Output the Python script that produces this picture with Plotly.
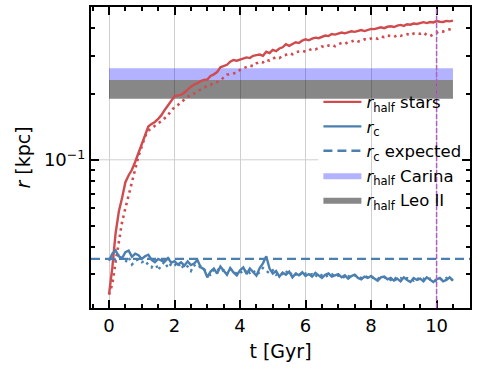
import plotly.graph_objects as go

# --- data ---
t_gyr = [
    0.0, 0.1, 0.2, 0.3, 0.4, 0.5, 0.6, 0.7, 0.8, 0.9,
    1.0, 1.1, 1.2, 1.3, 1.4, 1.5, 1.6, 1.7, 1.8, 1.9,
    2.0, 2.1, 2.2, 2.3, 2.4, 2.5, 2.6, 2.7, 2.8, 2.9,
    3.0, 3.1, 3.2, 3.3, 3.4, 3.5, 3.6, 3.7, 3.8, 3.9,
    4.0, 4.1, 4.2, 4.3, 4.4, 4.5, 4.6, 4.7, 4.8, 4.9,
    5.0, 5.1, 5.2, 5.3, 5.4, 5.5, 5.6, 5.7, 5.8, 5.9,
    6.0, 6.1, 6.2, 6.3, 6.4, 6.5, 6.6, 6.7, 6.8, 6.9,
    7.0, 7.1, 7.2, 7.3, 7.4, 7.5, 7.6, 7.7, 7.8, 7.9,
    8.0, 8.1, 8.2, 8.3, 8.4, 8.5, 8.6, 8.7, 8.8, 8.9,
    9.0, 9.1, 9.2, 9.3, 9.4, 9.5, 9.6, 9.7, 9.8, 9.9,
    10.0, 10.1, 10.2, 10.3, 10.4, 10.5,
]

rhalf_stars = [
    0.0242, 0.0320, 0.0460, 0.0580, 0.0670, 0.0790, 0.0850, 0.0900, 0.0980, 0.1080,
    0.1180, 0.1300, 0.1420, 0.1460, 0.1490, 0.1540, 0.1600, 0.1690, 0.1780, 0.1850,
    0.1950, 0.1970, 0.1980, 0.2030, 0.2100, 0.2160, 0.2210, 0.2240, 0.2290, 0.2320,
    0.2330, 0.2420, 0.2460, 0.2520, 0.2650, 0.2680, 0.2720, 0.2810, 0.2860, 0.2840,
    0.2870, 0.2900, 0.2940, 0.2920, 0.2990, 0.3010, 0.3030, 0.2990, 0.3120, 0.3080,
    0.3180, 0.3140, 0.3230, 0.3270, 0.3380, 0.3320, 0.3390, 0.3450, 0.3420, 0.3510,
    0.3560, 0.3520, 0.3580, 0.3620, 0.3600, 0.3660, 0.3700, 0.3680, 0.3760, 0.3740,
    0.3780, 0.3820, 0.3790, 0.3840, 0.3870, 0.3850, 0.3890, 0.3920, 0.3880, 0.3940,
    0.3970, 0.3960, 0.3990, 0.4040, 0.4000, 0.4060, 0.4080, 0.4050, 0.4110, 0.4140,
    0.4100, 0.4170, 0.4150, 0.4200, 0.4180, 0.4230, 0.4260, 0.4220, 0.4270, 0.4250,
    0.4310, 0.4280, 0.4270, 0.4320, 0.4300, 0.4330,
]

rhalf_stars_b = [
    0.0242, 0.0270, 0.0340, 0.0430, 0.0520, 0.0600, 0.0690, 0.0780, 0.0920, 0.1040,
    0.1150, 0.1280, 0.1360, 0.1390, 0.1430, 0.1470, 0.1500, 0.1550, 0.1600, 0.1680,
    0.1740, 0.1780, 0.1830, 0.1900, 0.1940, 0.1980, 0.2010, 0.2060, 0.2100, 0.2140,
    0.2180, 0.2200, 0.2250, 0.2270, 0.2310, 0.2380, 0.2450, 0.2470, 0.2490, 0.2500,
    0.2580, 0.2620, 0.2650, 0.2700, 0.2680, 0.2760, 0.2810, 0.2790, 0.2870, 0.2840,
    0.2900, 0.2950, 0.2920, 0.2990, 0.3020, 0.3070, 0.3040, 0.3100, 0.3130, 0.3150,
    0.3120, 0.3180, 0.3220, 0.3200, 0.3260, 0.3300, 0.3270, 0.3330, 0.3360, 0.3310,
    0.3380, 0.3420, 0.3390, 0.3450, 0.3470, 0.3530, 0.3480, 0.3500, 0.3560, 0.3540,
    0.3590, 0.3620, 0.3580, 0.3660, 0.3640, 0.3700, 0.3680, 0.3650, 0.3720, 0.3690,
    0.3740, 0.3760, 0.3710, 0.3780, 0.3800, 0.3770, 0.3820, 0.3720, 0.3680, 0.3740,
    0.3820, 0.3880, 0.3860, 0.3920, 0.3950, 0.3970,
]

r_core = [
    0.0345, 0.0372, 0.0385, 0.0362, 0.0355, 0.0378, 0.0384, 0.0360, 0.0372, 0.0366,
    0.0352, 0.0362, 0.0368, 0.0348, 0.0340, 0.0352, 0.0346, 0.0342, 0.0355, 0.0338,
    0.0344, 0.0332, 0.0340, 0.0328, 0.0343, 0.0330, 0.0335, 0.0348, 0.0322, 0.0316,
    0.0290, 0.0308, 0.0318, 0.0302, 0.0325, 0.0312, 0.0298, 0.0320, 0.0305, 0.0296,
    0.0312, 0.0322, 0.0300, 0.0318, 0.0306, 0.0295, 0.0320, 0.0336, 0.0362, 0.0318,
    0.0302, 0.0310, 0.0292, 0.0305, 0.0298, 0.0308, 0.0290, 0.0302, 0.0296, 0.0306,
    0.0294, 0.0300, 0.0292, 0.0304, 0.0296, 0.0288, 0.0298, 0.0302, 0.0292, 0.0296,
    0.0300, 0.0290, 0.0296, 0.0286, 0.0294, 0.0298, 0.0288, 0.0284, 0.0292, 0.0288,
    0.0294, 0.0286, 0.0280, 0.0290, 0.0292, 0.0284, 0.0288, 0.0280, 0.0286, 0.0278,
    0.0290, 0.0282, 0.0276, 0.0288, 0.0282, 0.0286, 0.0278, 0.0290, 0.0282, 0.0276,
    0.0284, 0.0288, 0.0278, 0.0282, 0.0290, 0.0280,
]

r_core_b = [
    0.0350, 0.0360, 0.0348, 0.0370, 0.0352, 0.0340, 0.0358, 0.0332, 0.0345, 0.0350,
    0.0340, 0.0346, 0.0330, 0.0322, 0.0345, 0.0312, 0.0330, 0.0342, 0.0320, 0.0335,
    0.0328, 0.0340, 0.0318, 0.0332, 0.0325, 0.0310, 0.0330, 0.0320, 0.0326, 0.0315,
    0.0305, 0.0298, 0.0315, 0.0320, 0.0306, 0.0312, 0.0300, 0.0318, 0.0308, 0.0302,
    0.0310, 0.0300, 0.0316, 0.0304, 0.0312, 0.0298, 0.0306, 0.0320, 0.0310, 0.0302,
    0.0312, 0.0298, 0.0306, 0.0300, 0.0310, 0.0296, 0.0304, 0.0298, 0.0308, 0.0294,
    0.0302, 0.0296, 0.0300, 0.0292, 0.0302, 0.0296, 0.0290, 0.0298, 0.0300, 0.0292,
    0.0296, 0.0298, 0.0288, 0.0294, 0.0290, 0.0296, 0.0292, 0.0288, 0.0294, 0.0290,
    0.0286, 0.0292, 0.0288, 0.0284, 0.0290, 0.0288, 0.0282, 0.0290, 0.0284, 0.0288,
    0.0282, 0.0288, 0.0284, 0.0280, 0.0288, 0.0282, 0.0286, 0.0280, 0.0286, 0.0282,
    0.0278, 0.0286, 0.0282, 0.0288, 0.0280, 0.0284,
]

rc_expected = 0.0352
t_marker = 10.0

band_t = [0.0, 10.5]
carina_range = [0.232, 0.262]
leo2_range = [0.190, 0.232]

x_range = [-0.55, 11.02]
y_range = [0.021, 0.5]

RED = "#d04b4e"
BLUE = "#4a7fb0"
FONT = "DejaVu Sans"


def band_trace(lohi, name, fill):
    x0, x1 = band_t
    lo, hi = lohi
    return go.Scatter(
        x=[x0, x1, x1, x0, x0], y=[lo, lo, hi, hi, lo],
        mode="lines", fill="toself", fillcolor=fill,
        line=dict(width=0), name=name, hoverinfo="skip",
    )


fig = go.Figure()

# bands first so the lines sit above them
fig.add_trace(band_trace(carina_range, "<i>r</i><sub>half</sub> Carina", "rgba(0,0,255,0.3)"))
fig.add_trace(band_trace(leo2_range, "<i>r</i><sub>half</sub> Leo II", "rgba(0,0,0,0.47)"))

fig.add_trace(go.Scatter(x=t_gyr, y=rhalf_stars_b, mode="lines", showlegend=False,
                         line=dict(color=RED, width=2.6, dash="2.5px,4px")))
fig.add_trace(go.Scatter(x=t_gyr, y=r_core_b, mode="lines", showlegend=False,
                         line=dict(color=BLUE, width=2.4, dash="2.5px,4px")))
fig.add_trace(go.Scatter(x=t_gyr, y=rhalf_stars, mode="lines",
                         name="<i>r</i><sub>half</sub> stars",
                         line=dict(color=RED, width=2.4)))
fig.add_trace(go.Scatter(x=t_gyr, y=r_core, mode="lines",
                         name="<i>r</i><sub>c</sub>",
                         line=dict(color=BLUE, width=2.4)))
# legend-only entry for the expected core radius (line itself is an hline)
fig.add_trace(go.Scatter(x=[None], y=[None], mode="lines",
                         name="<i>r</i><sub>c</sub> expected",
                         line=dict(color=BLUE, width=2.4, dash="9px,5px")))

fig.add_hline(y=rc_expected, line=dict(color=BLUE, width=2.4, dash="9px,5px"))
fig.add_vline(x=t_marker, line=dict(color="#b060c0", width=1.5, dash="5px,2px"))
# y grid only at the major tick, hidden behind the legend box
fig.add_shape(type="line", xref="paper", yref="y", x0=0, x1=0.6, y0=0.1, y1=0.1,
              line=dict(color="#cfcfcf", width=1), layer="below")

# legend order as in the reference
order = ["<i>r</i><sub>half</sub> stars", "<i>r</i><sub>c</sub>",
         "<i>r</i><sub>c</sub> expected", "<i>r</i><sub>half</sub> Carina",
         "<i>r</i><sub>half</sub> Leo II"]
for tr in fig.data:
    if tr.name in order:
        tr.legendrank = order.index(tr.name) + 1

fig.update_xaxes(
    range=x_range, tickvals=[0, 2, 4, 6, 8, 10], automargin=False,
    showgrid=True, gridcolor="#cfcfcf", gridwidth=1, zeroline=False,
    ticks="inside", ticklen=8, tickwidth=2, tickcolor="black",
    minor=dict(ticks="inside", dtick=0.5, ticklen=4, tickwidth=1.5, tickcolor="black", showgrid=False),
    showline=True, linecolor="black", linewidth=2, mirror="ticks",
    tickfont=dict(size=18, color="black", family=FONT),
    title=dict(text="t [Gyr]", font=dict(size=19, color="black", family=FONT), standoff=10),
)
fig.update_yaxes(
    type="log", range=[-1.678, -0.301], automargin=False,
    tickvals=[0.1], ticktext=["10<sup>\u22121</sup>"],
    showgrid=False, zeroline=False,
    ticks="inside", ticklen=8, tickwidth=2, tickcolor="black",
    minor=dict(ticks="inside", ticklen=4, tickwidth=1.5, tickcolor="black",
               tickvals=[0.03, 0.04, 0.05, 0.06, 0.07, 0.08, 0.09, 0.2, 0.3, 0.4], showgrid=False),
    showline=True, linecolor="black", linewidth=2, mirror="ticks",
    tickfont=dict(size=18, color="black", family=FONT),
    title=dict(text="<i>r</i> [kpc]", font=dict(size=19, color="black", family=FONT), standoff=8),
)

fig.update_layout(
    width=478, height=373,
    margin=dict(l=91, r=8, t=7, b=65),
    paper_bgcolor="white", plot_bgcolor="white",
    font=dict(family=FONT, color="black"),
    legend=dict(x=0.60, y=0.742, xanchor="left", yanchor="top",
                bgcolor="rgba(255,255,255,0)", borderwidth=0,
                font=dict(size=16.5, family=FONT, color="black"),
                tracegroupgap=0, itemwidth=38),
    showlegend=True,
)

# drop the browser's default page margin so the figure sits at the window origin
fig.write_html("out.html", config={"displayModeBar": False},
               post_script="document.body.style.margin='0';")
